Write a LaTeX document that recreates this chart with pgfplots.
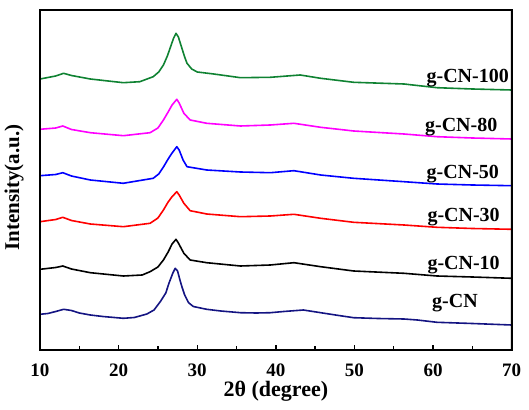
\documentclass[border=0pt]{standalone}
\usepackage{pgfplots}
\pgfplotsset{compat=1.18}
\usepackage{fontspec}
\setmainfont{Liberation Serif}
\definecolor{cgreen}{RGB}{15,130,50}
\definecolor{cmag}{RGB}{255,0,255}
\definecolor{cblue}{RGB}{0,0,255}
\definecolor{cred}{RGB}{255,0,0}
\definecolor{cnavy}{RGB}{20,20,130}
\begin{document}
\begin{tikzpicture}
\path[use as bounding box] (-40pt,-59pt) rectangle (489pt,350pt);
\begin{axis}[
  at={(0pt,0pt)}, anchor=south west,
  scale only axis,
  width=471.7pt, height=340pt,
  xmin=10, xmax=70, ymin=0, ymax=340,
  axis lines=box,
  clip=false,
  xtick={10,20,...,70},
  minor xtick={15,25,...,65},
  xtick pos=left,
  ytick=\empty,
  tick align=inside,
  major tick length=5pt,
  minor tick length=3.5pt,
  every tick/.append style={black, line width=1.4pt},
  axis line style={black, line width=1.8pt},
  /pgf/number format/assume math mode=true,
  xticklabel style={font=\fontsize{19}{19}\selectfont\bfseries, anchor=base, yshift=-26pt},
  xlabel={2θ (degree)},
  xlabel style={font=\fontsize{22}{22}\selectfont\bfseries, at={(axis description cs:0.5,-0.137)}, anchor=base, inner sep=0pt},
  ylabel={Intensity(a.u.)},
  ylabel style={font=\fontsize{21}{21}\selectfont\bfseries, at={(axis description cs:-0.055,0.478)}, anchor=center},
  every axis plot/.append style={line width=1.6pt, line join=round},
]
% g-CN
\addplot[cnavy] coordinates {
(10,35.7)(11,36.5)(12,38.5)(13,40.7)(14,39.5)(15,37)(16.4,35)(18,33.5)(20.6,31.7)(22,32.5)(23.6,36)(24.5,40)(25.3,48.3)(26.0,57)(26.4,66.7)(26.9,77)(27.2,81.7)(27.5,79)(27.8,70)(28.05,63.3)(28.4,55)(28.9,47.3)(29.5,43.5)(31.2,40.7)(33,39)(35.5,37.3)(37.5,37)(39.3,37.3)(41,38.5)(43.5,40)(45.7,37.3)(48,34.5)(49.9,32.3)(53,31.5)(56.3,31)(58,30)(60.5,27.7)(65,26.5)(70,25)};
% g-CN-10
\addplot[black] coordinates {
(10,80.7)(12,82.5)(12.9,84)(14,81)(16.4,77.3)(20.6,74)(23,75)(24,78.3)(25,83)(25.7,90)(26.3,98)(26.8,106)(27.3,110.7)(27.6,107)(28.3,96.7)(29.1,90)(31.2,87.3)(35.5,84)(39.3,85)(42.3,87.3)(45.7,83.3)(49.9,79)(56.3,76.7)(60.5,74)(65,73)(70,71.7)};
% g-CN-30
\addplot[cred] coordinates {
(10,128.3)(12,130.5)(12.9,132.7)(14,129.5)(16.4,126)(20.6,123.3)(24,126.7)(25,132)(25.7,140)(26.3,148)(26.8,153.3)(27.4,158.3)(27.7,155)(28.3,146.7)(29.1,139.3)(31.2,136)(35.5,133.3)(39.3,134)(42.3,135.7)(45.7,131.7)(49.9,127.7)(56.3,125)(60.5,122.7)(65,121.5)(70,120.7)};
% g-CN-50
\addplot[cblue] coordinates {
(10,174.3)(12,175.5)(12.9,177.3)(14,174)(16.4,170)(20.6,166.7)(24.4,171.7)(25.1,176)(25.7,183)(26.3,191)(26.8,197)(27.4,203.3)(27.7,200)(28.2,190)(28.7,183.3)(31.2,180)(35.5,178)(39.3,177.3)(42.3,179.3)(45.7,175)(49.9,171.7)(56.3,168.3)(60.5,166)(65,165)(70,164.3)};
% g-CN-80
\addplot[cmag] coordinates {
(10,220.7)(12,222)(12.9,224)(14,220.5)(16.4,217.3)(20.6,214.3)(24.0,217.3)(25,222)(25.7,230)(26.3,238)(26.8,245)(27.4,250.7)(27.7,247)(28.3,236.7)(29.1,230)(31.2,226.7)(35.5,224)(39.3,225)(42.3,226.7)(45.7,222.7)(49.9,219)(56.3,216)(60.5,213.3)(65,212)(70,211)};
% g-CN-100
\addplot[cgreen] coordinates {
(10,271)(12,274)(13.0,276.7)(14,274.5)(16.4,271)(20.6,267.3)(22.7,268.3)(24.4,273.3)(25.1,278)(25.7,285)(26.2,294)(26.6,303)(27.0,312)(27.3,316.7)(27.6,313)(28.0,303)(28.4,293)(28.7,286.7)(29.3,281)(30.0,278)(32.1,276)(35.5,272.3)(39.3,272.7)(43.1,275)(45.7,271.7)(49.9,267.7)(56.3,266)(60.5,262.3)(65,261)(70,260)};
% frame as a filled ring (in case stroked axis lines are lost)
\fill[black, even odd rule]
  ([shift={(-0.9pt,-0.9pt)}]rel axis cs:0,0) rectangle ([shift={(0.9pt,0.9pt)}]rel axis cs:1,1)
  ([shift={(0.9pt,0.9pt)}]rel axis cs:0,0) rectangle ([shift={(-0.9pt,-0.9pt)}]rel axis cs:1,1);
\pgfplotsinvokeforeach{20,30,40,50,60}{\fill[black] ([shift={(-0.7pt,0pt)}]axis cs:#1,0) rectangle ([shift={(0.7pt,5.5pt)}]axis cs:#1,0);}
\pgfplotsinvokeforeach{15,25,35,45,55,65}{\fill[black] ([shift={(-0.7pt,0pt)}]axis cs:#1,0) rectangle ([shift={(0.7pt,4pt)}]axis cs:#1,0);}
\node[anchor=base east, font=\fontsize{20}{20}\selectfont\bfseries, inner sep=0pt] at (axis cs:69.66,267) {g-CN-100};
\node[anchor=base east, font=\fontsize{20}{20}\selectfont\bfseries, inner sep=0pt] at (axis cs:68.2,218.3) {g-CN-80};
\node[anchor=base east, font=\fontsize{20}{20}\selectfont\bfseries, inner sep=0pt] at (axis cs:68.4,171) {g-CN-50};
\node[anchor=base east, font=\fontsize{20}{20}\selectfont\bfseries, inner sep=0pt] at (axis cs:68.5,128.5) {g-CN-30};
\node[anchor=base east, font=\fontsize{20}{20}\selectfont\bfseries, inner sep=0pt] at (axis cs:68.5,80.5) {g-CN-10};
\node[anchor=base east, font=\fontsize{20}{20}\selectfont\bfseries, inner sep=0pt] at (axis cs:65.7,42) {g-CN};
\end{axis}
\end{tikzpicture}
\end{document}
